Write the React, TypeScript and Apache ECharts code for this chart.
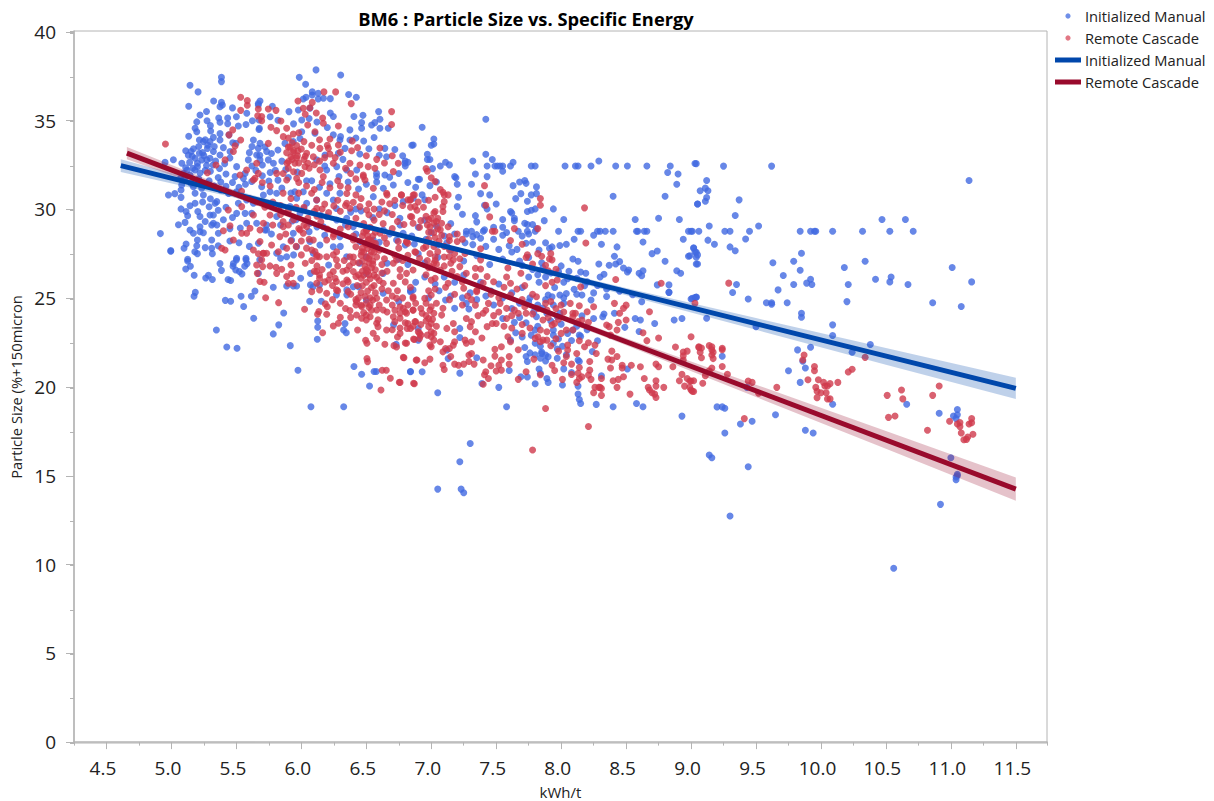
import React, { useEffect, useRef } from "react";
import * as echarts from "echarts";

const xMajor = [4.5, 5, 5.5, 6, 6.5, 7, 7.5, 8, 8.5, 9, 9.5, 10, 10.5, 11, 11.5];
const yMajor = [0, 5, 10, 15, 20, 25, 30, 35, 40];
const seriesNames = ["Initialized Manual", "Remote Cascade"];

const blueLine = [[4.61, 32.47], [11.5, 19.92]];
const redLine = [[4.657, 33.17], [11.5, 14.25]];
const blueBandX = [4.61, 5.5, 6.5, 7.5, 8.5, 9.5, 10.5, 11.5];
const blueBandLow = [32.11, 30.65, 28.9, 27.08, 25.17, 23.22, 21.25, 19.32];
const blueBandHigh = [32.83, 31.05, 29.14, 27.32, 25.57, 23.88, 22.19, 20.52];
const redBandX = [4.657, 5.5, 6.5, 7.5, 8.5, 9.5, 10.5, 11.5];
const redBandLow = [32.82, 30.64, 27.95, 25.18, 22.35, 19.43, 16.52, 13.6];
const redBandHigh = [33.52, 31.04, 28.19, 25.42, 22.75, 20.13, 17.52, 14.9];

const blueRight = [[9.03,32.59],[9.25,32.44],[9.62,32.44],[11.14,31.63],[9.12,31.63],[9.11,31.2],[9.07,31.05],[9.13,31.05],[9.12,30.67],[9.11,30.46],[9.05,30.31],[9.37,30.54],[9.34,29.66],[10.47,29.43],[10.65,29.43],[9.14,29.07],[9.52,29.07],[9.0,28.77],[9.06,28.77],[9.26,28.77],[9.3,28.77],[9.45,28.77],[9.84,28.77],[9.92,28.77],[9.95,28.77],[9.96,28.77],[10.09,28.77],[10.32,28.77],[10.53,28.77],[10.71,28.77],[9.13,28.27],[9.42,28.34],[9.18,28.04],[9.02,27.84],[9.3,27.89],[9.34,27.67],[9.03,27.61],[9.04,27.31],[8.99,27.39],[9.04,26.93],[9.85,27.53],[9.63,27.0],[9.79,27.08],[9.84,26.58],[10.34,27.08],[10.18,26.73],[11.01,26.73],[9.71,26.28],[9.92,26.07],[10.54,26.2],[10.42,26.07],[10.53,25.92],[11.16,25.92],[9.79,25.77],[9.89,25.85],[9.93,25.77],[10.21,25.77],[10.67,25.77],[9.35,25.77],[9.32,25.32],[9.67,25.47],[9.44,24.96],[9.03,25.04],[9.0,24.96],[9.58,24.74],[9.62,24.74],[9.62,24.66],[9.74,24.74],[10.2,24.81],[10.86,24.74],[11.08,24.53],[9.85,24.15],[9.85,23.93],[10.09,23.5],[10.09,22.9],[10.38,22.39],[9.92,22.24],[9.82,22.09],[10.24,21.96],[9.12,23.87],[9.5,23.4],[9.24,21.73],[9.86,21.45],[9.88,21.07],[9.75,20.92],[9.84,20.26],[10.09,19.03],[10.66,19.03],[9.2,18.88],[9.24,18.88],[9.26,18.8],[9.43,19.98],[9.65,18.44],[9.38,17.92],[9.47,18.07],[9.26,17.41],[9.88,17.56],[9.94,17.41],[10.91,18.52],[11.05,18.73],[11.02,18.37],[11.04,18.22],[11.05,18.44],[11.0,16.02],[9.14,16.17],[9.16,16.02],[9.44,15.51],[9.3,12.73],[10.92,13.39],[10.56,9.79],[11.05,15.08],[11.04,14.93],[11.04,14.78],[11.05,15.0]];

const blueMiddleUpper = [[7.42,35.08],[6.93,34.63],[7.02,33.97],[7.02,33.69],[7.0,33.62],[6.85,33.62],[6.97,33.11],[7.42,33.11],[7.47,32.81],[6.97,32.81],[6.99,32.81],[7.32,32.73],[7.11,32.66],[7.07,32.45],[7.14,32.51],[6.8,32.73],[6.82,32.66],[6.8,32.45],[7.63,32.66],[7.43,32.45],[7.49,32.45],[7.51,32.45],[7.53,32.45],[7.55,32.45],[7.61,32.45],[7.77,32.45],[7.8,32.45],[8.03,32.45],[8.11,32.45],[8.13,32.45],[8.23,32.45],[8.42,32.45],[8.51,32.45],[8.66,32.45],[8.29,32.73],[8.84,32.45],[9.04,32.58],[8.82,32.08],[8.9,32.0],[8.89,31.42],[7.01,32.3],[7.55,32.15],[7.34,32.0],[7.18,31.85],[7.19,31.78],[7.43,31.85],[6.91,31.7],[7.04,31.55],[6.99,31.34],[7.2,31.42],[7.31,31.42],[7.63,31.34],[7.68,31.55],[7.72,31.63],[7.73,31.47],[7.81,31.27],[7.81,30.89],[7.69,30.89],[7.65,30.61],[7.77,30.82],[7.74,30.46],[7.38,30.89],[7.45,30.82],[6.93,30.82],[7.21,30.69],[7.2,30.16],[7.5,30.31],[7.43,30.03],[7.41,30.24],[8.4,30.74],[8.8,30.74],[9.05,30.31],[7.94,30.03],[7.8,30.03],[7.77,29.95],[7.74,29.88],[7.61,29.88],[7.62,29.8],[7.24,29.73],[7.34,29.65],[7.64,29.5],[7.55,29.43],[7.64,29.37],[7.35,29.3],[8.02,29.43],[7.87,29.37],[8.57,29.43],[8.75,29.5],[8.91,29.43],[7.72,29.22],[7.74,29.15],[7.78,29.15],[7.81,28.92],[7.48,29.0],[7.55,29.0],[7.41,28.85]];

const blueMiddleLower = [[7.27,28.77],[7.31,28.77],[7.27,28.62],[7.32,28.47],[7.35,28.58],[7.4,28.77],[7.58,28.7],[7.55,28.55],[7.67,28.77],[7.74,28.77],[7.75,28.62],[7.8,28.77],[7.98,28.77],[8.13,28.77],[8.15,28.77],[8.28,28.77],[8.3,28.77],[8.34,28.77],[8.4,28.77],[8.25,28.55],[8.58,28.77],[8.59,28.77],[8.64,28.77],[8.66,28.77],[8.98,28.77],[9.01,28.77],[8.1,28.32],[8.94,28.32],[8.63,28.17],[8.31,28.04],[7.99,27.97],[8.04,28.04],[8.43,27.89],[9.02,27.81],[9.04,27.59],[7.93,27.89],[7.91,27.81],[7.73,28.1],[8.7,27.51],[8.74,27.66],[8.41,27.36],[8.98,27.36],[9.05,27.44],[8.8,27.08],[8.09,27.21],[8.13,27.08],[8.29,26.93],[8.37,26.86],[8.42,26.93],[8.45,27.06],[9.05,26.93],[8.48,26.7],[8.51,26.48],[8.52,26.59],[8.15,26.48],[8.19,26.41],[8.33,26.35],[8.3,26.2],[8.6,26.41],[8.63,26.55],[8.62,26.27],[8.89,26.55],[8.92,26.41],[8.74,25.75],[8.83,25.75],[8.83,25.33],[9.04,25.07],[7.05,19.68],[6.84,20.86],[6.93,20.86],[7.22,20.78],[7.39,20.2],[7.52,19.98],[7.58,18.89],[7.3,16.82],[7.22,15.79],[7.05,14.25],[7.23,14.25],[7.25,14.04],[7.69,20.58],[7.74,20.56],[7.8,20.18],[7.83,21.01],[7.84,20.77],[7.89,20.48],[7.9,20.26],[8.01,20.11],[8.13,20.05],[8.13,19.6],[8.14,19.3],[8.15,19.07],[8.27,19.02],[8.4,18.89],[8.58,19.07],[8.63,18.89],[8.93,18.36],[7.6,20.93],[7.22,22.79],[7.13,21.6],[7.12,22.08],[7.35,21.65],[7.73,21.72],[7.74,21.44],[7.88,21.46],[7.9,21.7],[7.85,21.97],[7.84,22.3],[7.8,22.46],[7.77,22.92],[7.8,23.21],[7.65,23.06],[7.61,22.64],[7.94,22.46],[7.97,22.14],[8.01,22.3],[8.13,21.52],[8.14,21.44],[8.24,22.0],[8.28,22.6],[8.31,20.63],[8.51,21.01],[8.15,22.85],[8.25,23.86],[8.33,24.11],[8.41,24.15],[8.32,23.96],[8.49,23.36],[8.6,23.13],[8.57,23.86],[8.61,23.77],[8.72,23.58],[8.87,23.77],[8.93,23.86],[8.62,24.8],[8.23,24.9],[8.16,25.18],[9.01,24.99],[9.04,25.05],[8.83,25.33],[8.16,24.01],[7.55,23.86],[7.64,23.64],[7.11,24.9],[7.18,24.43],[7.22,23.3],[7.27,24.71],[7.29,24.39],[7.94,23.21],[8.0,23.54],[7.97,23.96],[7.89,24.15],[7.81,23.96],[7.79,24.24],[7.75,24.8],[7.94,24.62],[7.99,24.15],[8.02,24.71],[7.93,25.08],[7.99,25.18],[8.04,25.27],[7.9,25.18],[8.09,23.21],[8.14,22.92],[7.88,21.8],[7.85,21.89],[6.9,23.3],[6.9,22.64],[6.84,25.37],[7.95,25.6],[8.02,25.9],[8.1,25.5],[8.18,25.7],[8.05,26.1],[7.88,26.2],[7.83,25.9],[7.75,26.2],[7.7,25.6],[7.62,25.3],[7.52,25.8],[7.46,25.4],[7.38,25.9],[7.3,25.3],[7.25,26.3],[7.18,25.9],[7.1,26.2],[7.03,25.8],[6.95,26.2],[6.88,25.9],[6.95,27.0],[7.05,27.3],[7.15,27.7],[7.25,27.1],[7.35,27.4],[7.45,26.9],[7.55,27.2],[7.62,27.6],[7.68,27.1],[7.75,27.3],[7.85,27.0],[7.98,26.5],[8.25,25.3],[8.35,25.1],[8.45,25.4],[8.55,25.2]];

const blueLeftLower = [[4.995,27.65],[5.2,27.51],[5.315,27.51],[5.125,27.1],[5.146,26.8],[5.11,26.65],[5.175,26.29],[5.264,26.14],[5.285,26.29],[5.315,26.05],[5.374,26.95],[5.385,26.57],[5.477,26.95],[5.474,26.8],[5.5,27.16],[5.495,26.59],[5.523,26.5],[5.543,26.37],[5.574,27.16],[5.582,26.95],[5.564,26.8],[5.436,26.05],[5.456,26.0],[5.184,25.33],[5.174,25.11],[5.415,24.88],[5.456,24.83],[5.536,25.11],[5.615,25.11],[5.643,25.41],[5.556,24.53],[5.633,23.87],[5.346,23.21],[5.426,22.25],[5.505,22.18],[5.784,25.62],[5.887,25.69],[5.938,25.69],[5.964,25.69],[5.995,26.12],[5.864,24.17],[5.826,23.5],[5.784,22.99],[5.915,22.33],[5.974,20.94],[6.074,18.89],[6.326,18.89],[6.064,24.83],[6.154,24.83],[6.126,23.72],[6.126,23.36],[6.123,22.69],[6.325,23.21],[6.336,23.57],[6.346,23.06],[6.07,25.75],[6.09,25.65],[6.14,25.75],[6.27,25.19],[6.35,25.19],[6.35,25.47],[6.405,21.15],[6.464,20.72],[6.525,20.06],[6.56,20.87],[6.577,20.87],[6.84,20.87],[6.73,22.4],[6.71,23.5],[6.84,25.43],[6.86,25.47],[6.5,26.4],[6.66,26.97],[6.63,26.4],[6.5,24.9],[6.63,25.28],[6.75,24.81],[6.45,26.97],[6.44,25.65],[6.4,25.65],[5.68,27.16],[5.81,27.53],[5.84,27.25],[5.94,27.44],[5.67,26.4],[6.21,26.87],[6.07,26.4]];

const blueLeftUpper = [[6.113,37.86],[6.303,37.57],[5.385,37.44],[5.385,37.2],[5.143,36.99],[5.984,37.44],[6.033,37.05],[5.205,36.62],[6.084,36.62],[6.13,36.54],[6.084,36.45],[6.036,36.32],[6.015,36.22],[6.13,36.22],[6.17,36.26],[6.364,36.47],[6.423,36.32],[6.223,36.24],[5.325,36.11],[5.385,36.03],[5.374,35.79],[5.392,35.88],[5.133,35.81],[5.682,36.11],[5.669,35.96],[5.777,35.81],[5.669,35.88],[5.905,35.51],[5.977,35.6],[6.066,35.7],[6.223,35.43],[6.246,35.23],[6.405,35.23],[6.474,35.3],[6.595,35.51],[6.605,35.08],[6.566,34.89],[6.464,34.89],[6.541,34.76],[6.605,34.57],[6.669,34.57],[6.464,34.57],[6.374,34.48],[6.302,34.1],[5.274,35.0],[5.195,34.93],[5.182,34.57],[5.195,34.38],[5.133,34.12],[5.364,35.15],[5.433,35.15],[5.374,34.91],[5.433,34.83],[5.515,34.7],[5.574,34.78],[5.623,35.0],[5.674,35.04],[5.674,34.5],[5.677,34.57],[5.302,34.42],[5.374,34.27],[5.443,34.2],[5.472,33.76],[5.215,33.91],[5.246,33.82],[5.297,33.82],[5.323,34.06],[5.374,33.91],[5.11,33.31],[5.151,33.26],[5.215,33.16],[5.277,33.44],[5.233,32.79],[5.182,32.88],[5.164,32.32],[5.2,32.41],[5.272,32.79],[5.297,32.88],[5.323,33.26],[5.374,33.07],[5.451,33.26],[5.497,33.72],[5.015,32.8],[4.951,32.65],[5.143,31.94],[5.079,31.38],[5.074,31.1],[4.977,30.81],[5.026,30.89],[5.074,30.68],[5.169,31.28],[5.233,31.19],[5.246,30.81],[5.182,30.91],[5.074,30.03],[5.143,30.21],[5.113,29.88],[5.182,30.35],[5.203,29.88],[5.22,29.6],[5.125,29.65],[5.054,29.14],[5.105,29.27],[4.915,28.64],[4.995,27.68],[5.097,27.81],[5.113,28.05],[5.195,27.96],[5.2,28.28],[5.169,28.66],[5.143,28.84],[5.22,28.75],[5.246,28.69],[5.31,29.12],[5.323,29.22],[5.31,28.28],[5.361,28.66],[5.31,27.81],[5.323,29.69],[5.297,29.69],[5.336,30.35],[5.349,30.44],[5.502,29.78],[5.515,30.35],[5.579,30.53],[5.631,30.35],[5.567,29.78],[5.618,29.78],[5.579,29.22],[5.656,29.22],[5.733,29.12],[5.733,28.84],[5.81,29.6],[5.72,28.84],[5.631,33.91],[5.682,33.72],[5.669,33.44],[5.733,33.26],[5.656,33.07],[5.746,32.79],[5.785,32.6],[5.682,32.79],[5.592,32.79],[5.567,32.03],[5.502,32.41],[5.49,31.85],[5.554,31.75],[5.618,31.57],[5.695,31.28],[5.759,31.0],[5.708,30.81],[5.81,30.91],[6.003,35.04],[6.003,34.38],[5.99,34.0],[5.938,33.82],[5.874,33.72],[6.105,34.29],[6.246,34.2],[6.297,33.91],[6.374,33.91],[6.336,33.44],[6.285,33.16],[6.182,33.07],[6.118,32.79],[6.195,32.22],[6.272,32.41],[6.349,32.22],[6.426,32.22],[6.579,32.03],[6.643,33.44],[6.656,32.97],[6.797,32.6],[6.861,33.63],[6.579,31.85],[6.643,31.94],[6.631,31.19],[6.554,30.72],[6.784,30.44],[6.708,31.38],[6.861,30.63],[6.9,31.7],[6.759,29.5],[6.733,28.28],[6.784,28.66],[6.631,28.84],[6.297,30.91],[6.246,30.53],[6.195,30.91],[6.118,30.53],[6.041,30.35],[6.015,31.0],[5.964,30.63],[5.913,30.16],[5.99,29.78],[6.066,29.22],[6.169,29.03],[6.195,29.6],[6.272,29.41],[6.349,29.5],[6.4,29.03],[6.554,28.28],[6.451,28.19],[6.297,28.47],[6.246,27.9],[6.143,28.0],[5.502,27.25],[5.574,27.25],[5.125,27.19],[5.861,27.9],[5.964,27.9],[5.925,28.28],[5.938,28.66],[6.092,27.53],[5.887,27.34],[6.066,28.19],[6.5,27.34],[6.349,27.34],[5.08,32.6],[5.12,32.2],[5.16,33.0],[5.2,32.6],[5.24,33.2],[5.1,31.7],[5.18,31.6],[5.26,32.2],[5.32,32.5],[5.36,31.8],[5.42,32.0],[5.38,31.1],[5.44,30.9],[5.5,31.0],[5.3,30.6],[5.6,33.2],[5.65,32.2],[5.7,31.9],[5.75,31.6],[5.8,32.2],[5.85,31.2],[5.9,31.8],[5.95,31.0],[6.8,28.0],[6.85,28.5],[6.9,29.0],[6.95,29.4],[7.0,28.7],[7.05,28.0],[7.1,28.5],[7.15,29.2],[6.75,27.2],[6.82,26.9],[6.9,27.5]];

const blueDense = [[5.13,33.05],[5.17,33.42],[5.21,33.55],[5.25,33.03],[5.14,32.65],[5.18,32.22],[5.22,32.05],[5.27,32.48],[5.3,32.15],[5.34,32.72],[5.37,32.31],[5.41,32.58],[5.45,32.9],[5.28,33.62],[5.33,33.55],[5.4,33.48],[5.11,32.35],[5.09,32.02],[5.07,31.75],[5.15,31.48],[5.21,31.73],[5.25,31.42],[5.29,31.62],[5.33,31.32],[5.38,31.55],[5.42,31.3],[5.47,31.52],[5.52,31.25],[5.57,31.42],[5.24,30.42],[5.29,30.15],[5.36,29.95],[5.42,30.12],[5.47,29.55],[5.4,29.42],[5.26,29.32],[5.22,29.02],[5.35,29.12],[5.45,28.92],[5.53,28.95],[5.18,27.62],[5.26,27.85],[5.36,27.95],[5.45,28.22],[5.52,28.12],[5.6,27.92],[5.67,28.1],[5.77,28.62],[5.84,29.12],[5.93,29.35],[5.62,33.55],[5.68,33.05],[5.72,33.52],[5.77,33.15],[5.82,33.35],[5.85,32.72],[5.62,32.45],[5.7,32.5],[5.76,32.08],[5.82,31.65],[5.88,32.25],[5.97,32.1],[6.08,31.62],[6.14,31.25],[6.22,31.45],[6.29,31.85],[6.36,31.55],[6.44,31.15],[6.5,31.42],[6.58,31.55],[6.68,31.82],[6.75,32.02],[6.82,31.52],[6.88,31.25],[6.95,30.55],[6.72,30.22],[6.66,29.82],[6.6,30.02],[6.55,29.55],[6.46,29.92],[6.38,29.85],[6.27,30.05],[6.15,29.65],[6.02,30.05],[5.96,29.42],[6.06,28.75],[6.18,28.55],[6.3,27.92],[6.42,28.62],[6.6,28.15],[6.68,28.62],[6.76,29.12],[6.87,28.05],[6.96,28.32],[7.04,29.05],[7.12,28.12],[7.18,28.62],[7.26,28.12],[7.32,28.02],[7.38,28.38],[7.42,27.92],[7.48,28.32],[7.52,27.75],[7.6,27.95],[7.66,27.75],[7.7,28.5],[7.78,28.15],[7.83,27.72],[7.88,28.12],[7.7,26.85],[7.78,26.62],[7.82,26.32],[7.86,26.72],[7.92,26.42],[8.0,26.82],[8.06,26.52],[8.12,26.12],[8.2,25.92],[8.28,25.72],[8.35,25.52],[8.12,25.22],[8.02,25.02],[7.88,24.92],[7.82,24.62],[7.76,25.02],[7.68,24.72],[7.62,24.42],[7.55,25.02],[7.48,24.62],[7.42,25.12],[7.35,24.92],[7.24,25.02],[7.15,25.12],[7.06,25.42],[6.98,25.02],[7.92,23.72],[7.86,24.45],[7.82,23.42],[7.73,23.62],[7.68,23.92],[7.94,22.92],[7.98,22.72],[8.05,23.02],[8.08,22.62],[8.12,23.42],[8.2,23.22],[7.7,22.82],[7.72,22.22],[7.76,21.92],[7.8,21.82],[7.84,21.62],[7.97,21.62],[8.04,21.82],[8.02,21.02],[8.08,20.82],[6.42,30.02],[6.34,29.12],[6.12,29.02],[5.92,30.92],[6.04,31.62],[6.18,32.45],[6.32,32.82],[6.45,33.12],[6.52,33.42],[6.6,33.05],[6.72,33.38],[6.78,33.02],[6.48,33.85],[6.56,34.05],[6.42,34.02],[6.2,34.62],[6.12,34.92],[6.06,35.12],[5.94,34.82],[5.82,35.02],[5.76,35.22],[5.58,35.42],[5.5,35.22],[5.47,35.72],[5.27,35.52],[5.22,35.32],[5.3,34.72],[5.26,33.92]];

const redRight = [[9.29,25.85],[9.06,22.26],[9.08,22.2],[9.14,22.33],[9.16,22.26],[9.16,22.1],[9.17,21.96],[9.07,21.96],[9.08,21.65],[9.16,21.8],[9.17,21.6],[9.24,22.18],[9.24,22.1],[9.14,20.92],[9.16,21.07],[9.24,21.15],[9.28,20.72],[9.11,20.64],[9.0,20.34],[9.09,20.21],[9.01,19.76],[8.99,20.34],[9.44,20.34],[9.47,20.26],[9.52,19.65],[9.66,19.98],[9.41,18.22],[9.87,21.8],[9.86,21.52],[9.95,21.15],[9.95,20.92],[9.9,20.41],[9.98,20.41],[10.02,20.26],[10.03,20.06],[10.05,20.06],[10.07,20.19],[10.13,20.26],[9.96,19.98],[9.97,19.76],[10.0,19.68],[10.04,19.68],[9.97,19.4],[10.05,19.33],[10.07,19.33],[10.21,20.85],[10.24,21.0],[10.34,21.67],[10.51,19.53],[10.62,19.83],[10.63,19.33],[10.52,18.29],[10.57,18.37],[10.86,19.53],[10.91,20.06],[10.82,17.56],[10.99,18.07],[11.07,18.0],[11.05,17.92],[11.07,17.77],[11.14,17.92],[11.16,18.22],[11.16,17.99],[11.08,17.41],[11.17,17.34],[11.13,17.18],[11.12,17.05],[11.1,17.03]];

const redMiddle = [[7.41,31.34],[8.18,30.09],[7.84,30.61],[7.84,30.24],[7.42,30.24],[7.45,29.58],[7.82,28.92],[7.64,28.92],[7.47,28.77],[7.49,28.77],[7.61,28.25],[7.7,28.04],[8.19,28.11],[8.42,26.05],[8.77,25.84],[7.74,27.44],[7.73,27.29],[7.82,27.51],[7.85,27.36],[7.92,27.51],[7.91,27.21],[7.93,27.16],[7.88,26.86],[7.78,26.93],[7.96,26.63],[7.9,26.55],[7.97,26.03],[7.93,25.9],[7.59,26.7],[7.58,26.2],[7.61,25.84],[7.69,26.41],[7.72,25.71],[8.15,25.64],[7.88,25.71],[6.96,32.3],[6.97,32.15],[7.0,31.78],[7.03,31.57],[7.07,31.12],[7.09,30.97],[7.13,30.82],[7.1,30.82],[7.03,30.69],[7.1,30.44],[7.09,30.16],[7.09,29.88],[6.87,30.82],[6.84,30.54],[6.82,30.54],[6.77,30.82],[6.89,29.95],[6.85,29.58],[6.84,29.6],[7.03,29.88],[7.02,29.8],[7.05,29.5],[7.0,29.5],[6.98,29.43],[7.02,29.22],[7.08,29.22],[6.92,29.37],[6.97,29.13],[7.13,29.03],[7.07,28.85],[7.02,28.7],[6.91,29.0],[6.86,29.22],[6.79,29.15],[7.14,28.47],[7.2,28.62],[7.24,28.32],[7.08,28.55],[7.14,28.25],[7.2,28.19],[6.81,28.17],[6.94,27.81],[6.88,27.59],[6.82,28.1],[7.03,27.34],[7.14,27.34],[7.17,27.16],[7.15,26.97],[7.02,26.97],[6.99,26.78],[7.07,26.59],[7.22,26.78],[6.91,27.25],[7.38,27.79],[7.38,27.16],[7.27,26.41],[7.34,26.69],[7.38,26.65],[7.43,26.22],[7.34,26.22],[7.48,25.93],[7.4,25.86],[7.13,25.84],[7.25,25.56],[7.11,25.62],[7.35,25.43]];

const redLower = [[8.21,17.78],[7.78,16.45],[7.88,18.79],[6.87,20.18],[6.76,20.26],[7.67,20.43],[7.44,20.48],[7.42,20.86],[7.4,20.15],[7.41,20.69],[7.5,20.9],[7.52,21.23],[7.54,20.95],[7.6,21.72],[7.6,21.29],[7.54,21.52],[7.49,21.74],[7.46,21.2],[7.49,22.12],[7.54,22.27],[7.59,22.83],[7.61,22.55],[7.67,22.1],[7.73,20.86],[7.79,21.57],[7.84,20.69],[7.93,21.22],[7.95,20.93],[8.02,21.37],[8.08,21.29],[8.08,20.71],[8.01,20.43],[8.12,20.26],[8.13,20.77],[8.14,21.1],[8.14,20.48],[8.16,20.58],[8.22,21.44],[8.22,20.95],[8.21,20.67],[8.25,19.68],[8.26,19.98],[8.29,19.98],[8.31,19.92],[8.31,19.53],[8.3,19.98],[8.31,20.48],[8.23,20.43],[8.38,21.07],[8.36,21.57],[8.39,21.52],[8.43,21.72],[8.39,22.02],[8.4,20.35],[8.44,20.43],[8.48,20.58],[8.43,19.98],[8.47,21.22],[8.47,21.07],[8.54,21.22],[8.61,21.14],[8.53,19.6],[8.64,20.48],[8.67,19.98],[8.68,19.83],[8.7,19.68],[8.72,19.6],[8.73,19.41],[8.73,20.05],[8.73,20.35],[8.79,19.98],[8.73,21.29],[8.75,21.14],[8.86,21.14],[8.91,20.35],[8.93,20.71],[8.97,20.48],[9.02,20.35],[8.95,20.05],[8.99,19.98],[9.0,19.83],[9.02,19.75],[8.88,22.25],[8.94,21.97],[8.94,21.76],[8.97,22.02],[8.94,21.52],[8.66,22.61],[8.63,23.06],[8.75,22.76],[9.0,22.83],[9.06,22.23],[9.03,24.71],[8.43,23.21],[8.44,23.64],[8.5,23.77],[8.37,23.4],[8.35,23.49],[8.38,22.92],[8.21,23.64],[8.2,24.24],[8.16,23.77],[8.25,24.52],[8.41,24.71],[8.5,24.61],[8.48,24.43],[8.45,24.15],[8.68,24.24],[8.07,24.71],[8.14,24.58],[8.11,24.15],[8.09,23.96],[8.13,23.68],[8.04,23.21],[8.09,23.21],[8.05,22.36],[8.05,22.08],[8.12,21.89],[8.14,22.6],[8.18,22.27],[8.21,22.49],[8.26,22.36],[8.27,21.89],[7.89,24.33],[7.86,23.77],[7.84,23.21],[7.89,23.11],[7.86,22.64],[7.82,22.83],[7.84,22.55],[7.8,22.74],[7.89,22.64],[7.95,23.58],[7.93,23.49],[6.79,21.65],[6.89,21.52],[6.95,21.37],[6.99,21.57],[7.09,21.22],[7.1,20.99],[7.15,21.72],[7.21,21.22],[7.18,21.29],[7.25,21.29],[7.29,21.44],[7.33,21.29],[7.31,21.89],[7.29,21.8],[7.4,21.52],[6.81,22.46],[6.87,22.68],[6.91,22.74],[7.0,22.27],[6.99,22.36],[7.02,22.64],[7.07,22.55],[7.09,21.98],[7.11,22.17],[7.17,22.36],[7.14,22.17],[7.18,22.55],[7.26,22.64],[7.27,22.46],[7.31,22.55],[7.39,22.76],[7.0,23.11],[7.02,23.02],[6.98,23.4],[7.0,23.58],[6.97,22.92],[7.0,22.83],[6.91,23.02],[6.9,23.11],[6.84,23.3],[6.82,23.58],[6.76,23.02],[7.17,23.58],[7.18,23.11],[7.12,23.3],[7.27,23.86],[7.31,23.68],[7.3,23.4],[7.34,23.11],[7.43,23.4],[7.47,23.58],[7.5,23.58],[7.58,23.86],[6.76,24.15],[6.8,24.24],[6.86,24.33],[6.93,24.15],[6.99,24.33],[7.09,24.43],[7.02,24.15],[6.88,23.68],[6.98,23.86],[7.08,24.05],[7.34,24.61],[7.4,24.15],[7.44,24.71],[7.58,24.43],[7.64,24.33],[7.67,24.15],[7.73,24.15],[6.86,25.08],[6.95,24.99],[7.0,25.18],[7.35,25.37],[7.53,24.71],[7.61,25.18],[7.81,25.08],[7.88,24.71],[8.09,24.15]];

const redLeftLower = [[5.725,25.03],[5.825,24.75],[6.025,24.38],[6.135,24.25],[6.125,24.1],[6.195,24.1],[6.185,24.68],[6.164,23.06],[6.246,23.44],[6.285,23.59],[6.374,24.3],[6.433,23.21],[6.495,22.63],[6.505,22.46],[6.505,21.6],[6.51,21.43],[6.623,20.94],[6.654,20.94],[6.685,20.49],[6.754,20.27],[6.864,20.21],[6.613,19.83],[6.643,22.41],[6.713,22.33],[6.733,22.25],[6.8,22.48],[6.785,21.67],[6.884,21.52],[6.864,22.7],[6.815,23.29],[6.656,23.21],[6.58,22.74],[6.59,23.4],[6.553,23.03],[6.58,23.59],[6.53,23.96],[6.59,23.78],[6.425,24.06],[6.464,23.87],[6.5,23.78],[6.425,24.81],[6.464,24.53],[6.53,24.62],[6.58,24.34],[6.63,24.34],[6.656,24.9],[6.708,23.96],[6.76,23.87],[6.72,23.68],[6.785,24.43],[6.81,24.15],[6.86,24.34],[6.874,23.68],[6.733,25.0],[6.86,25.0],[5.682,25.94],[5.713,25.9],[5.661,26.4],[5.67,27.5],[5.707,27.53],[5.695,27.16],[5.702,26.78],[5.656,26.87],[5.759,26.82],[5.805,26.74],[5.81,26.4],[5.849,26.63],[5.887,26.22],[5.92,26.87],[5.925,26.4],[5.9,25.84],[5.938,25.84],[6.0,27.44],[6.03,26.97],[6.105,27.63],[6.14,27.34],[6.118,26.5],[6.14,26.31],[6.246,26.5],[6.21,26.03],[6.118,25.84],[6.14,25.47],[6.08,25.37],[6.195,25.28],[6.27,25.47],[6.35,26.03],[6.36,25.37],[6.246,27.44],[6.27,27.16],[6.374,27.34],[6.27,25.94],[6.35,26.59],[6.4,26.5],[6.708,26.97],[6.76,26.22],[6.63,25.84],[6.733,27.16],[6.81,26.4],[6.86,26.59],[6.708,25.84]];

const redDenseBand = [[6.48,24.2],[6.52,24.5],[6.55,24.9],[6.49,25.1],[6.51,25.4],[6.54,25.6],[6.57,25.3],[6.47,25.7],[6.5,25.9],[6.53,26.1],[6.56,26.3],[6.48,26.3],[6.51,26.5],[6.54,26.7],[6.57,26.6],[6.49,26.8],[6.52,27.0],[6.55,27.1],[6.47,27.1],[6.5,27.3],[6.53,27.4],[6.56,27.6],[6.48,27.6],[6.51,27.8],[6.54,27.9],[6.57,28.1],[6.49,28.1],[6.52,28.3],[6.47,28.5],[6.55,28.5],[6.5,28.8],[6.53,29.0],[6.48,29.2],[6.56,29.4],[6.52,29.7],[6.58,25.0],[6.46,24.6],[6.6,26.0],[6.62,26.9],[6.44,27.0],[6.42,27.9],[6.6,27.7],[6.64,28.4],[6.4,28.5],[6.63,29.2],[6.42,29.5],[6.3,28.9],[6.25,28.6],[6.2,28.9],[6.15,29.3],[6.1,29.9],[6.05,29.5],[6.3,29.9],[6.25,30.2],[6.18,30.3],[6.4,30.4],[6.35,30.9],[6.5,24.05],[6.53,25.02],[6.46,25.32],[6.56,25.72],[6.58,26.18],[6.46,26.12],[6.52,26.32],[6.5,26.62],[6.55,26.92],[6.47,26.52],[6.52,27.22],[6.58,27.32],[6.46,27.42],[6.54,27.62],[6.5,28.02],[6.58,27.82],[6.47,27.82],[6.54,28.2],[6.51,28.52],[6.57,28.72],[6.48,28.72],[6.54,24.32],[6.5,24.72],[6.6,24.62],[6.44,25.02],[6.44,26.32],[6.62,25.52],[6.62,26.42],[6.43,25.72],[6.64,27.22],[6.66,26.52],[6.4,27.32],[6.67,25.42],[6.42,24.62]];

const redExtraCentral = [[5.86,29.32],[5.9,29.12],[5.94,29.42],[5.98,28.92],[6.02,29.12],[6.06,28.32],[5.88,28.62],[5.92,28.22],[5.96,27.92],[6.0,28.22],[6.04,27.82],[6.08,27.72],[6.12,27.42],[6.08,27.12],[6.12,26.82],[6.16,26.62],[6.1,26.52],[6.14,26.12],[6.18,25.92],[6.22,26.32],[6.26,26.12],[6.24,25.72],[6.28,25.42],[6.32,25.82],[6.36,25.92],[6.32,26.52],[6.28,26.82],[6.33,27.12],[6.37,26.82],[6.4,27.02],[6.42,26.22],[6.38,25.22],[6.42,24.92],[6.3,24.72],[6.24,24.92],[6.2,24.52],[6.34,24.42],[6.38,23.92],[6.3,23.92],[6.7,28.92],[6.74,29.32],[6.7,29.72],[6.64,29.92],[6.68,30.32],[6.62,30.42],[6.75,27.82],[6.72,27.42],[6.78,27.12],[6.82,27.42],[6.76,26.62],[6.8,25.92],[6.84,25.62],[6.74,25.42],[6.7,25.12],[6.78,25.02],[6.7,24.62],[6.66,24.22],[6.72,24.32],[6.76,24.52],[6.82,24.62],[6.88,24.72],[6.92,24.42],[6.96,23.72],[6.92,23.52],[6.86,23.42],[6.8,23.62],[6.76,23.32],[6.7,23.22],[6.74,22.82],[6.92,22.92],[6.96,24.02],[7.01,23.82],[7.04,23.42],[7.0,24.52],[7.04,24.72],[6.96,24.72],[6.98,25.42],[7.03,25.52],[7.0,26.02],[6.96,26.32],[7.03,26.12],[6.98,26.72],[7.04,26.92],[6.97,27.12],[7.03,27.12],[6.99,27.52],[7.05,27.62],[6.96,27.92],[7.02,27.92],[7.06,28.22],[6.98,28.32],[7.03,28.42],[6.98,28.72],[7.05,28.92],[6.99,29.02],[7.04,29.32],[6.96,29.62],[7.1,27.92],[7.14,27.72],[7.1,27.32],[7.18,27.52],[7.22,27.22],[7.26,27.52],[7.1,26.82],[7.16,26.52],[7.2,26.22],[7.24,25.92],[7.18,25.22],[7.14,24.92],[7.24,24.62],[7.28,25.12],[7.31,24.92],[7.36,24.02],[7.42,24.32],[7.48,24.02],[7.52,24.22],[7.46,25.22],[7.52,25.02],[7.56,25.62],[7.66,25.52],[7.7,24.92],[7.78,25.22],[7.72,24.52],[7.62,24.02],[7.56,23.42],[7.62,23.32],[7.7,23.52],[7.76,23.32],[7.7,23.02],[7.78,24.12],[7.82,24.42],[7.92,24.82],[7.96,24.42],[8.0,24.62],[8.02,24.22],[7.98,23.82],[7.9,23.92],[8.0,23.02],[7.96,22.72],[7.92,22.32],[7.98,22.02],[8.04,21.72],[6.12,29.62],[6.16,30.02],[6.21,29.82],[6.28,30.52],[6.34,30.22],[6.42,30.82],[6.46,30.62],[6.52,30.32],[6.56,30.02],[6.6,29.72],[6.66,30.82],[6.72,30.52],[6.78,30.22],[6.84,30.12],[6.9,30.42],[6.94,30.12],[6.98,30.52],[6.3,31.32],[6.36,31.22],[6.42,31.72],[6.28,31.62],[6.22,31.22],[6.16,31.52],[6.1,31.12],[6.04,31.32],[5.98,31.52],[5.94,32.12],[5.9,32.32],[5.86,32.02],[5.86,30.92],[5.92,30.62],[5.98,30.92],[6.02,30.12],[5.96,30.12],[5.9,29.92],[5.84,30.22],[5.78,30.42],[5.72,30.12],[5.66,30.42],[5.6,30.62],[5.54,31.02],[5.76,31.32],[5.7,31.52],[5.84,29.72],[5.78,29.12],[5.9,33.52],[5.94,33.32],[5.97,33.02],[5.93,32.82],[5.98,32.62],[6.02,32.82],[6.06,32.32],[6.1,32.52],[6.14,32.72],[6.18,32.92],[6.22,33.12],[6.26,32.92],[6.3,33.22],[6.34,32.32],[6.38,32.02],[6.5,33.02],[6.58,32.82],[6.64,32.62],[6.7,33.02],[5.9,34.02],[5.98,34.32],[6.02,33.82],[6.08,33.62],[6.14,33.92],[6.2,33.62]];

const redLeftUpper = [[4.954,33.69],[5.533,36.32],[5.584,36.13],[5.584,35.87],[5.533,35.58],[5.669,35.66],[5.746,35.66],[5.805,35.58],[5.664,35.27],[5.695,35.23],[6.174,36.62],[6.264,36.62],[6.384,35.96],[6.695,35.51],[6.695,34.78],[5.974,36.11],[6.084,36.03],[6.015,35.7],[6.066,35.73],[6.03,35.36],[6.115,35.43],[6.164,35.15],[6.285,34.7],[5.472,34.48],[5.443,34.2],[5.533,33.91],[5.49,33.58],[5.477,33.26],[5.843,34.98],[5.766,34.63],[5.695,35.0],[5.81,34.44],[5.887,34.57],[5.938,34.25],[5.861,34.1],[6.169,34.85],[6.049,34.76],[6.105,34.38],[6.22,33.97],[6.285,33.63],[6.392,33.86],[6.433,33.48],[6.387,33.31],[6.605,33.46],[5.913,33.5],[5.964,33.6],[5.938,33.2],[5.887,33.2],[5.92,32.97],[5.964,32.9],[5.9,32.7],[5.95,32.6],[5.975,33.3],[5.93,33.75],[5.89,32.6],[6.0,33.4],[6.03,33.0],[6.05,32.6],[5.413,32.79],[5.343,32.5],[5.277,32.07],[5.528,31.94],[5.643,31.75],[5.669,32.03],[5.579,32.22],[5.631,31.66],[5.656,32.6],[5.746,33.72],[5.81,32.03],[5.887,31.66],[5.964,31.75],[6.746,32.6],[6.374,32.6],[6.451,32.5],[6.49,31.66],[6.515,32.41],[6.566,32.32],[6.708,32.13],[6.477,31.85],[6.477,31.94],[6.554,31.19],[6.656,30.91],[6.771,30.81],[6.861,30.81],[6.836,30.53],[6.874,30.16],[6.246,32.6],[6.143,33.44],[6.208,33.44],[6.041,33.16],[6.092,32.97],[6.028,32.41],[6.143,32.22],[6.003,32.03],[6.169,31.85],[6.349,30.35],[6.374,30.07],[6.451,30.16],[6.503,29.97],[5.438,29.97],[5.541,30.16],[5.631,29.69],[5.759,29.69],[5.861,29.03],[5.708,29.22],[5.835,28.47],[5.682,28.84],[5.579,28.66],[5.451,29.08],[5.4,28.8],[5.541,28.66],[5.605,28.94],[5.477,28.28],[5.682,28.19],[5.771,28.0],[5.733,27.53],[5.823,27.62],[5.887,27.81],[6.015,28.66],[6.041,29.03],[6.118,30.53],[6.079,30.91],[6.118,30.06],[5.99,28.84],[6.092,28.28],[6.195,28.28],[6.246,28.47],[6.361,29.03],[6.4,28.28],[6.503,28.84],[6.515,28.28],[6.554,28.09],[6.464,27.62],[6.605,28.66],[6.656,28.09],[6.746,28.19],[6.81,28.19],[6.874,27.62],[5.387,27.81],[5.413,27.72],[5.631,27.72],[5.708,27.53],[6.118,27.34],[6.195,27.34],[6.272,27.62]];

const blueSeries = [...blueRight, ...blueMiddleUpper, ...blueMiddleLower, ...blueLeftLower, ...blueLeftUpper, ...blueDense];
const redSeries = [...redRight, ...redMiddle, ...redLower, ...redLeftLower, ...redDenseBand, ...redExtraCentral, ...redLeftUpper];

const BLUE = "#4169E1";
const RED = "#CF3A4C";
const BLUE_LINE = "#0047AB";
const RED_LINE = "#990A2C";
const FONT = "'Open Sans', 'Noto Sans', sans-serif";
const AXIS_GRAY = "#b4b4b4";

const bandSeries = (name: string, xs: number[], low: number[], high: number[], color: string) => ({
  type: "custom",
  name,
  silent: true,
  clip: true,
  z: 3,
  data: [0],
  encode: { x: [], y: [] },
  renderItem: (_: any, api: any) => {
    const top = xs.map((x, i) => api.coord([x, high[i]]));
    const bottom = xs.map((x, i) => api.coord([x, low[i]])).reverse();
    return { type: "polygon", shape: { points: [...top, ...bottom] }, style: { fill: color, opacity: 0.25 } };
  },
});

const legendRows = [
  { y: 16, label: seriesNames[0], kind: "dot", color: "#6f8fe8" },
  { y: 38, label: seriesNames[1], kind: "dot", color: "#e27784" },
  { y: 60, label: seriesNames[0], kind: "bar", color: BLUE_LINE },
  { y: 82, label: seriesNames[1], kind: "bar", color: RED_LINE },
];

export default function App() {
  const ref = useRef<HTMLDivElement>(null);
  useEffect(() => {
    const chart = echarts.init(ref.current!, undefined, { renderer: "svg" });
    const legendGraphics: any[] = [];
    legendRows.forEach((r) => {
      if (r.kind === "dot") {
        legendGraphics.push({ type: "circle", shape: { cx: 1068, cy: r.y, r: 2.6 }, style: { fill: r.color } });
      } else {
        legendGraphics.push({ type: "rect", shape: { x: 1055, y: r.y - 2.5, width: 26, height: 5 }, style: { fill: r.color } });
      }
      legendGraphics.push({
        type: "text",
        x: 1085,
        y: r.y,
        style: { text: r.label, font: `14.7px ${FONT}`, fill: "#222", textVerticalAlign: "middle", textAlign: "left" },
      });
    });
    const sharedX = { type: "value", min: 4.25, max: 11.74, interval: 0.25, splitLine: { show: false } };
    const sharedY = { type: "value", min: -0.05, max: 40.05, interval: 2.5, splitLine: { show: false } };
    chart.setOption({
      animation: false,
      backgroundColor: "#fff",
      title: {
        text: "BM6 : Particle Size vs. Specific Energy",
        left: 521,
        top: 4,
        textAlign: "center",
        textStyle: { fontFamily: FONT, fontSize: 18.3, fontWeight: "bold", color: "#000" },
      },
      grid: { left: 74, right: 167, top: 31, bottom: 58, outerBoundsMode: "none", show: true, borderColor: AXIS_GRAY, borderWidth: 1, backgroundColor: "transparent" },
      xAxis: [
        {
          ...sharedX,
          name: "kWh/t",
          nameLocation: "middle",
          nameGap: 41,
          nameTextStyle: { fontFamily: FONT, fontSize: 15, color: "#222" },
          axisLine: { show: true, lineStyle: { color: AXIS_GRAY, width: 1.5 } },
          axisTick: { show: true, length: 7, customValues: xMajor, lineStyle: { color: AXIS_GRAY, width: 1 } },
          axisLabel: { customValues: xMajor, margin: 15, padding: [0, 7, 0, 0], fontFamily: FONT, fontSize: 19, color: "#222", formatter: (v: number) => v.toFixed(1) },
        },
        {
          ...sharedX,
          position: "bottom",
          axisLine: { show: false },
          axisTick: { show: true, length: 3.5, lineStyle: { color: AXIS_GRAY, width: 1 } },
          axisLabel: { show: false },
        },
      ],
      yAxis: [
        {
          ...sharedY,
          name: "Particle Size (%+150micron",
          nameLocation: "middle",
          nameGap: 50,
          nameTextStyle: { fontFamily: FONT, fontSize: 14.7, color: "#222" },
          axisLine: { show: true, lineStyle: { color: AXIS_GRAY, width: 1.5 } },
          axisTick: { show: true, length: 8, customValues: yMajor, lineStyle: { color: AXIS_GRAY, width: 1 } },
          axisLabel: { customValues: yMajor, margin: 18, fontFamily: FONT, fontSize: 19, color: "#222", formatter: (v: number) => String(v) },
        },
        {
          ...sharedY,
          position: "left",
          axisLine: { show: false },
          axisTick: { show: true, length: 4, lineStyle: { color: AXIS_GRAY, width: 1 } },
          axisLabel: { show: false },
        },
      ],
      series: [
        { type: "scatter", name: seriesNames[0], data: blueSeries, symbol: "circle", symbolSize: 7, z: 2, itemStyle: { color: BLUE, opacity: 0.8 } },
        { type: "scatter", name: seriesNames[1], data: redSeries, symbol: "circle", symbolSize: 7, z: 2, itemStyle: { color: RED, opacity: 0.8 } },
        bandSeries(seriesNames[0] + " band", blueBandX, blueBandLow, blueBandHigh, BLUE_LINE),
        bandSeries(seriesNames[1] + " band", redBandX, redBandLow, redBandHigh, RED_LINE),
        { type: "line", name: seriesNames[0] + " fit", data: blueLine, symbol: "none", z: 4, lineStyle: { color: BLUE_LINE, width: 5, cap: "butt" } },
        { type: "line", name: seriesNames[1] + " fit", data: redLine, symbol: "none", z: 4, lineStyle: { color: RED_LINE, width: 5, cap: "butt" } },
      ],
      graphic: legendGraphics,
    });
    return () => chart.dispose();
  }, []);
  return <div ref={ref} style={{ width: 1214, height: 801, position: "absolute", left: 0, top: 0 }} />;
}
